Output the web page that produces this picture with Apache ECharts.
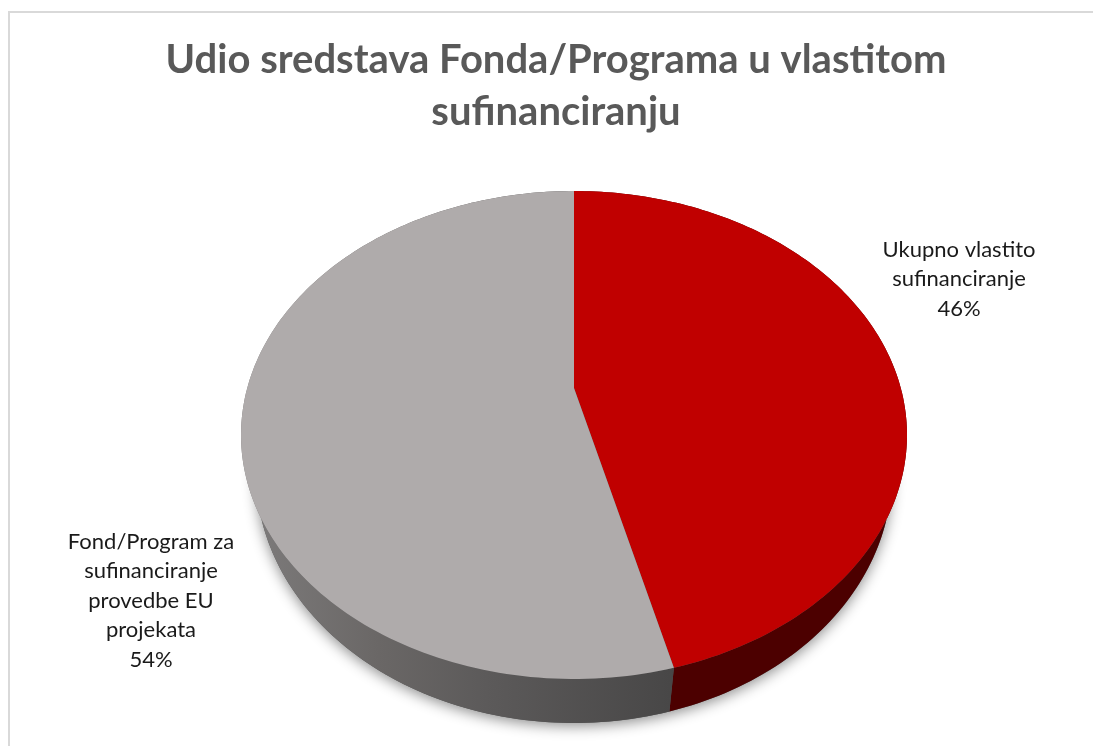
<!DOCTYPE html>
<html>
<head>
<meta charset="utf-8">
<style>
  html, body { margin: 0; padding: 0; background: #fff; }
  #chart { width: 1093px; height: 746px; }
</style>
<script src="https://cdn.jsdelivr.net/npm/echarts@6/dist/echarts.min.js"></script>
</head>
<body>
<div id="chart"></div>
<script>
const titleText = 'Udio sredstava Fonda/Programa u vlastitom\nsufinanciranju'
const categories = ['Ukupno vlastito\nsufinanciranje', 'Fond/Program za\nsufinanciranje\nprovedbe EU\nprojekata']
const values = [46, 54]

const faceColors = ['#C00000', '#AFABAB']
const labelCentres = [[959, 250], [151, 542]]

// the disc seen in perspective: the circle goes to an ellipse but its centre
// lands above the ellipse centre, so rim points go through a small projection
const top_ = { cx: 574, cy: 435, rx: 333, ry: 244 }
const bottom_ = { cx: 574, cy: 473, rx: 318, ry: 250 }
const centreShift = -47
const k = centreShift / top_.ry

function project(e, u, v) {
  const w = 1 + k * v
  const a = Math.sqrt(1 - k * k)
  return [
    e.cx + e.rx * a * u / w,
    e.cy + e.ry * (v + centreShift / top_.ry) / w
  ]
}

function rim(e, from, to) {
  const pts = []
  const n = Math.max(2, Math.ceil((to - from) / 0.02))
  for (let i = 0; i <= n; i++) {
    const t = from + (to - from) * i / n
    pts.push(project(e, Math.sin(t), -Math.cos(t)))
  }
  return pts
}

const total = values.reduce((s, v) => s + v, 0)

function sliceAngles(idx) {
  let before = 0
  for (let i = 0; i < idx; i++) before += values[i]
  return [before / total * Math.PI * 2, (before + values[idx]) / total * Math.PI * 2]
}

const grayWall = new echarts.graphic.LinearGradient(250, 0, 680, 0, [
  { offset: 0, color: '#7d7b7b' },
  { offset: 0.3, color: '#6a6766' },
  { offset: 0.55, color: '#5c5a5a' },
  { offset: 1, color: '#474646' }
], true)
const wallColors = ['#4C0000', grayWall]

const chart = echarts.init(document.getElementById('chart'))

chart.setOption({
  animation: false,
  title: {
    text: titleText,
    left: 551,
    top: 29,
    textAlign: 'center',
    textStyle: {
      fontFamily: 'Lato',
      fontWeight: 'bold',
      fontSize: 40,
      lineHeight: 52,
      color: '#595959'
    }
  },
  graphic: [{
    type: 'polyline',
    silent: true,
    shape: { points: [[9, 746], [9, 12], [1093, 12]] },
    style: { stroke: '#D9D9D9', lineWidth: 2, fill: null }
  }],
  series: [
    {
      // soft shadow under the whole disc
      type: 'custom',
      coordinateSystem: 'none',
      silent: true,
      z: 1,
      data: [total],
      renderItem() {
        return {
          type: 'polygon',
          shape: { points: rim(bottom_, 0, Math.PI * 2) },
          style: {
            fill: '#555',
            shadowBlur: 14,
            shadowColor: 'rgba(0,0,0,0.45)',
            shadowOffsetY: 3
          }
        }
      }
    },
    {
      // side walls
      type: 'custom',
      coordinateSystem: 'none',
      silent: true,
      z: 2,
      data: values,
      renderItem(params) {
        const [a0, a1] = sliceAngles(params.dataIndex)
        return {
          type: 'polygon',
          shape: { points: rim(top_, a0, a1).concat(rim(bottom_, a0, a1).reverse()) },
          style: { fill: wallColors[params.dataIndex] }
        }
      }
    },
    {
      // top face and labels
      type: 'custom',
      coordinateSystem: 'none',
      silent: true,
      z: 3,
      data: values,
      renderItem(params, api) {
        const i = params.dataIndex
        const [a0, a1] = sliceAngles(i)
        const pct = Math.round(api.value(0) / total * 100)
        return {
          type: 'group',
          children: [
            {
              type: 'polygon',
              shape: { points: [project(top_, 0, 0)].concat(rim(top_, a0, a1)) },
              style: { fill: faceColors[i] }
            },
            {
              type: 'text',
              x: labelCentres[i][0],
              y: labelCentres[i][1],
              style: {
                text: categories[i] + '\n' + pct + '%',
                fontFamily: 'Lato',
                fontSize: 22,
                lineHeight: 29.5,
                align: 'center',
                verticalAlign: 'top',
                fill: '#1a1a1a',
                y: -15
              }
            }
          ]
        }
      }
    }
  ]
})
</script>
</body>
</html>
